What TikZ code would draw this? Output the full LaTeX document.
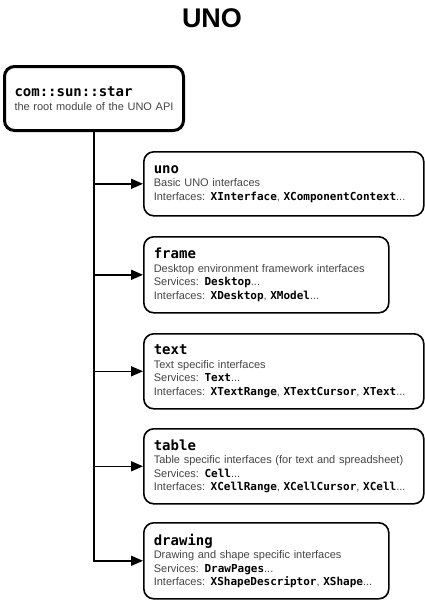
\documentclass[tikz,border=0pt]{standalone}
\usepackage{fontspec}
\setmainfont{Liberation Sans}
\setmonofont{DejaVu Sans Mono}
\usetikzlibrary{arrows.meta}
\definecolor{txtgray}{HTML}{444444}
\newcommand{\mn}[1]{{\color{black}\ttfamily\bfseries #1}}
\newcommand{\hd}[1]{{\color{black}\fontsize{14}{16}\selectfont\ttfamily\bfseries #1}}
\begin{document}
\begin{tikzpicture}[x=1pt,y=-1pt,
  modbox/.style={draw, line width=1.6pt, rounded corners=10pt, align=left,
    inner xsep=10pt, inner ysep=0pt, font=\fontsize{11}{13.5}\selectfont,
    text=txtgray, anchor=north west},
  rootbox/.style={modbox, line width=3pt},
  link/.style={line width=1.6pt, -{Triangle[length=12pt,width=10pt]}}]
\useasboundingbox (0,0) rectangle (424,600);
\node[font=\bfseries\fontsize{27}{30}\selectfont] (title) at (212,18) {UNO};
\node[rootbox, minimum width=179pt, minimum height=64pt, text width=159pt] (root) at (3,65)
  {\hd{com::sun::star}\\the root module of the UNO API};
\node[modbox, minimum width=280pt, minimum height=64pt, text width=260pt] (uno) at (143,151)
  {\hd{uno}\\Basic UNO interfaces\\Interfaces: \mn{XInterface}, \mn{XComponentContext}...};
\node[modbox, minimum width=245pt, minimum height=76pt, text width=225pt] (frame) at (143,236)
  {\hd{frame}\\Desktop environment framework interfaces\\Services: \mn{Desktop}...\\Interfaces: \mn{XDesktop}, \mn{XModel}...};
\node[modbox, minimum width=280pt, minimum height=75pt, text width=260pt] (text) at (143,333)
  {\hd{text}\\Text specific interfaces\\Services: \mn{Text}...\\Interfaces: \mn{XTextRange}, \mn{XTextCursor}, \mn{XText}...};
\node[modbox, minimum width=280pt, minimum height=75pt, text width=260pt] (table) at (143,428)
  {\hd{table}\\Table specific interfaces (for text and spreadsheet)\\Services: \mn{Cell}...\\Interfaces: \mn{XCellRange}, \mn{XCellCursor}, \mn{XCell}...};
\node[modbox, minimum width=245pt, minimum height=76pt, text width=225pt] (drawing) at (143,522)
  {\hd{drawing}\\Drawing and shape specific interfaces\\Services: \mn{DrawPages}...\\Interfaces: \mn{XShapeDescriptor}, \mn{XShape}...};
\draw[link] (root.south) |- (drawing.west);
\foreach \m in {uno,frame,text,table}
  \draw[link] (root.south |- \m.west) -- (\m.west);
\end{tikzpicture}
\end{document}
